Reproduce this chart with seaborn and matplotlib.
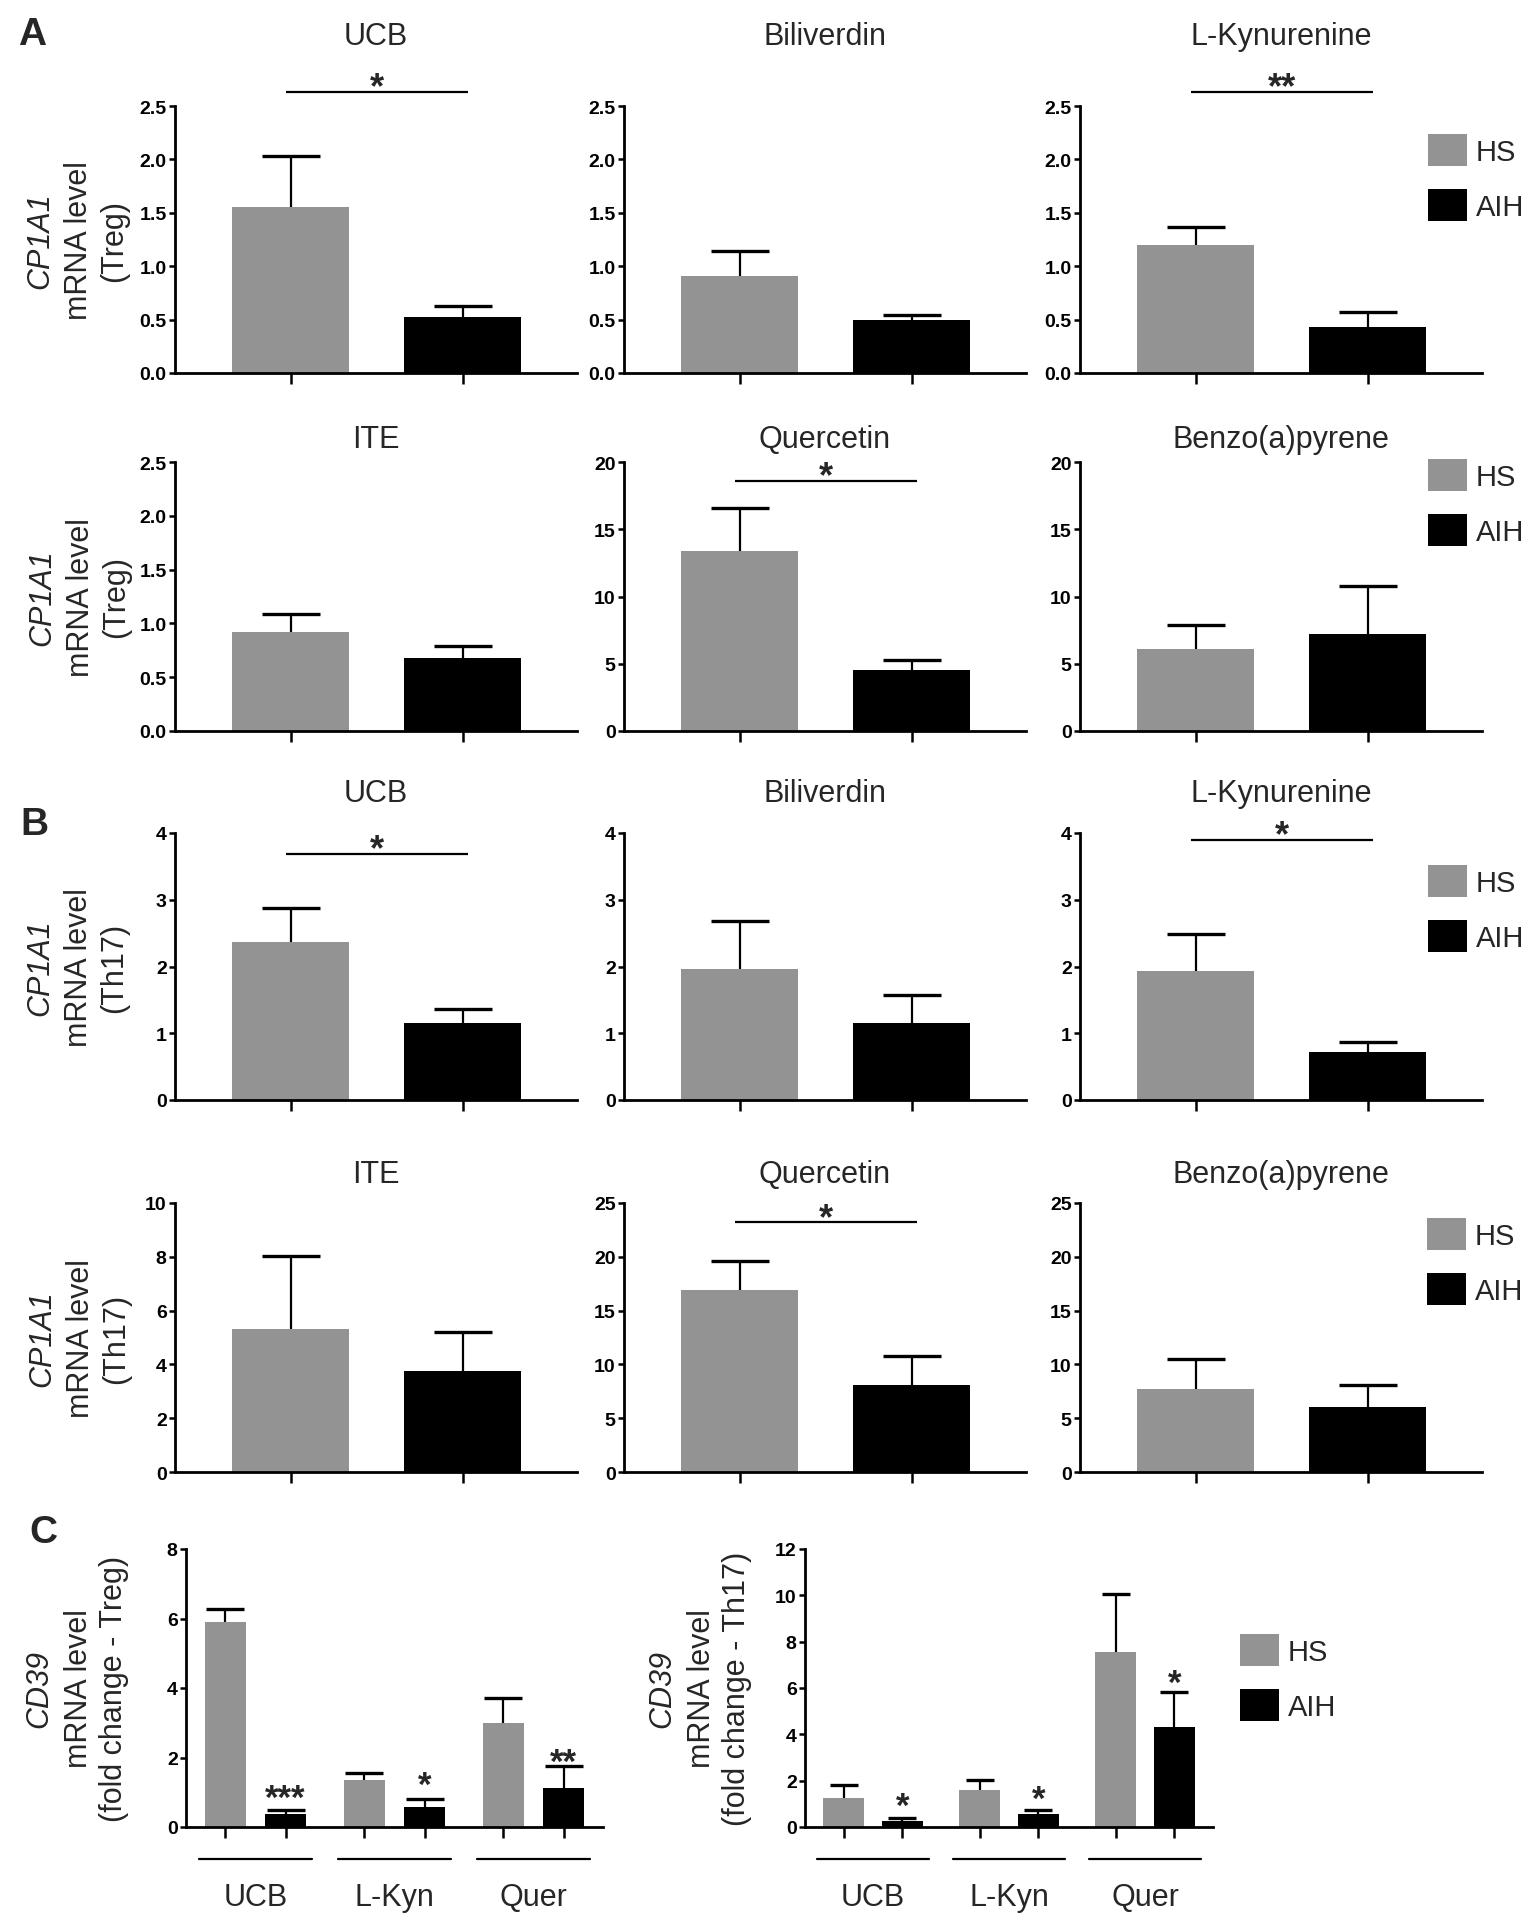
import numpy as np
import pandas as pd
import matplotlib
matplotlib.use("Agg")
import matplotlib.pyplot as plt
import seaborn as sns
from matplotlib.patches import Patch

# ---------------- data ----------------
groups = ["HS", "AIH"]
titles_top = ["UCB", "Biliverdin", "L-Kynurenine"]
titles_bottom = ["ITE", "Quercetin", "Benzo(a)pyrene"]

# Panel A, row 1 (Treg): [HS, AIH] per compound
a1_mean = [[1.55, 0.52], [0.91, 0.50], [1.20, 0.43]]
a1_sem = [[0.48, 0.11], [0.23, 0.04], [0.17, 0.14]]
a1_sig = ["*", "", "**"]
a1_sig_y = [2.63, 0, 2.63]
a1_yticks = [[0.0, 0.5, 1.0, 1.5, 2.0, 2.5]] * 3

# Panel A, row 2 (Treg)
a2_mean = [[0.92, 0.68], [13.4, 4.54], [6.1, 7.2]]
a2_sem = [[0.17, 0.11], [3.2, 0.75], [1.8, 3.55]]
a2_sig = ["", "*", ""]
a2_sig_y = [0, 18.6, 0]
a2_yticks = [[0.0, 0.5, 1.0, 1.5, 2.0, 2.5], [0, 5, 10, 15, 20], [0, 5, 10, 15, 20]]

# Panel B, row 1 (Th17)
b1_mean = [[2.37, 1.16], [1.97, 1.16], [1.935, 0.72]]
b1_sem = [[0.50, 0.21], [0.715, 0.415], [0.55, 0.155]]
b1_sig = ["*", "", "*"]
b1_sig_y = [3.69, 0, 3.90]
b1_yticks = [[0, 1, 2, 3, 4]] * 3

# Panel B, row 2 (Th17)
b2_mean = [[5.32, 3.77], [16.9, 8.1], [7.74, 6.04]]
b2_sem = [[2.70, 1.43], [2.75, 2.70], [2.72, 2.06]]
b2_sig = ["", "*", ""]
b2_sig_y = [0, 23.2, 0]
b2_yticks = [[0, 2, 4, 6, 8, 10], [0, 5, 10, 15, 20, 25], [0, 5, 10, 15, 20, 25]]

# Panel C (CD39 fold change)
c_drugs = ["UCB", "L-Kyn", "Quer"]
c_treg_hs = [5.89, 1.36, 3.00]
c_treg_hs_sem = [0.38, 0.20, 0.72]
c_treg_aih = [0.38, 0.57, 1.12]
c_treg_aih_sem = [0.10, 0.24, 0.63]
c_treg_stars = ["***", "*", "**"]
c_treg_star_y = [0.81, 1.21, 1.87]
c_treg_yticks = [0, 2, 4, 6, 8]

c_th17_hs = [1.27, 1.585, 7.54]
c_th17_hs_sem = [0.56, 0.465, 2.50]
c_th17_aih = [0.26, 0.55, 4.32]
c_th17_aih_sem = [0.14, 0.17, 1.49]
c_th17_stars = ["*", "*", "*"]
c_th17_star_y = [0.91, 1.21, 6.20]
c_th17_yticks = [0, 2, 4, 6, 8, 10, 12]

# ---------------- style ----------------
sns.set_theme(style="ticks")
plt.rcParams["font.family"] = ["Liberation Sans", "DejaVu Sans"]
GRAY = "#939393"
BLACK = "#000000"

W, H = 1538, 1924
fig = plt.figure(figsize=(W / 100, H / 100), dpi=100)


def px_axes(x0, y0, x1, y1):
    return fig.add_axes([x0 / W, 1 - y1 / H, (x1 - x0) / W, (y1 - y0) / H])


def style_axes(ax, yticks, ylim_top):
    for s in ["top", "right"]:
        ax.spines[s].set_visible(False)
    for s in ["left", "bottom"]:
        ax.spines[s].set_linewidth(2.0)
        ax.spines[s].set_color("black")
    ax.set_ylim(0, ylim_top)
    ax.set_yticks(yticks)
    if any(isinstance(t, float) and not float(t).is_integer() for t in yticks):
        ax.set_yticklabels([f"{t:.1f}" for t in yticks])
    else:
        ax.set_yticklabels([f"{int(t)}" for t in yticks])
    ax.tick_params(axis="y", direction="out", length=4, width=1.8, pad=2,
                   labelsize=14, colors="black")
    for lab in ax.get_yticklabels():
        lab.set_fontweight("bold")
    ax.tick_params(axis="x", direction="out", length=8, width=1.8,
                   labelbottom=False, colors="black")
    ax.set_xlabel("")
    ax.set_ylabel("")
    ax.set_facecolor("white")


def draw_pair(ax, means, sems, yticks, sig, sig_y):
    sns.barplot(x=groups, y=means, hue=groups, palette=[GRAY, BLACK],
                width=0.68, saturation=1, legend=False, linewidth=0,
                errorbar=None, ax=ax)
    eb = ax.errorbar([0, 1], means, yerr=[[0, 0], sems], fmt="none",
                     ecolor="black", elinewidth=1.6, capsize=21, capthick=2.4,
                     zorder=3)
    eb[1][0].set_visible(False)
    ax.set_xlim(-0.674, 1.663)
    ax.set_xticks([0, 1])
    style_axes(ax, yticks, yticks[-1])
    if sig:
        ax.plot([-0.03, 1.03], [sig_y, sig_y], color="black", lw=1.6,
                clip_on=False, solid_capstyle="butt")
        ax.annotate(sig, xy=(0.5, sig_y), xytext=(0, 3), textcoords="offset points",
                    ha="center", va="center", fontsize=26, fontweight="bold",
                    annotation_clip=False)


col_x = [(175, 577), (624, 1026), (1080, 1482)]
rows = [
    dict(y=(107, 374), mean=a1_mean, sem=a1_sem, yt=a1_yticks, sig=a1_sig,
         sy=a1_sig_y, titles=titles_top, tb=45, cell="(Treg)", lx=(40, 79, 114),
         leg=(1428, 135)),
    dict(y=(463, 732), mean=a2_mean, sem=a2_sem, yt=a2_yticks, sig=a2_sig,
         sy=a2_sig_y, titles=titles_bottom, tb=448, cell="(Treg)", lx=(42, 81, 116),
         leg=(1428, 460)),
    dict(y=(834, 1101), mean=b1_mean, sem=b1_sem, yt=b1_yticks, sig=b1_sig,
         sy=b1_sig_y, titles=titles_top, tb=802, cell="(Th17)", lx=(40, 79, 114),
         leg=(1428, 866)),
    dict(y=(1204, 1473), mean=b2_mean, sem=b2_sem, yt=b2_yticks, sig=b2_sig,
         sy=b2_sig_y, titles=titles_bottom, tb=1183, cell="(Th17)", lx=(42, 81, 116),
         leg=(1427, 1219)),
]

legend_handles = [Patch(facecolor=GRAY, edgecolor="none"),
                  Patch(facecolor=BLACK, edgecolor="none")]


def add_legend(x0, y0):
    fig.legend(legend_handles, groups, loc="upper left",
               bbox_to_anchor=(x0 / W, 1 - y0 / H), bbox_transform=fig.transFigure,
               frameon=False, fontsize=21, handlelength=1.34, handleheight=1.3,
               labelspacing=0.8, handletextpad=0.3, borderpad=0, borderaxespad=0)


TITLE_FS = 22
LABEL_FS = 22

for r in rows:
    y0, y1 = r["y"]
    for j in range(3):
        x0, x1 = col_x[j]
        ax = px_axes(x0, y0, x1, y1)
        draw_pair(ax, r["mean"][j], r["sem"][j], r["yt"][j], r["sig"][j], r["sy"][j])
        ax.text(0.5, (y1 - r["tb"]) / (y1 - y0), r["titles"][j], transform=ax.transAxes,
                ha="center", va="baseline", fontsize=TITLE_FS, clip_on=False)
    yc = 1 - (y0 + y1) / 2 / H
    lx = r["lx"]
    fig.text(lx[0] / W, yc, "CP1A1", rotation=90, ha="center", va="center",
             fontsize=LABEL_FS, fontstyle="italic")
    fig.text(lx[1] / W, yc, "mRNA level", rotation=90, ha="center", va="center",
             fontsize=LABEL_FS)
    fig.text(lx[2] / W, yc, r["cell"], rotation=90, ha="center", va="center",
             fontsize=LABEL_FS)
    add_legend(*r["leg"])

# ---------------- Panel C ----------------
C_WIDTH = 0.864
C_GAP = 0.305


def draw_c(ax, hs, hs_sem, aih, aih_sem, stars, star_y, yticks, capsize):
    df = pd.DataFrame({"drug": c_drugs * 2,
                       "group": ["HS"] * 3 + ["AIH"] * 3,
                       "value": list(hs) + list(aih)})
    sns.barplot(data=df, x="drug", y="value", hue="group", order=c_drugs,
                hue_order=groups, palette={"HS": GRAY, "AIH": BLACK},
                width=C_WIDTH, gap=C_GAP, saturation=1, errorbar=None,
                linewidth=0, legend=False, ax=ax)
    base = np.arange(len(c_drugs))
    off = C_WIDTH / 4
    for xs, m, s in [(base - off, hs, hs_sem), (base + off, aih, aih_sem)]:
        eb = ax.errorbar(xs, m, yerr=[np.zeros(len(m)), s], fmt="none",
                         ecolor="black", elinewidth=1.6, capsize=capsize,
                         capthick=2.4, zorder=3)
        eb[1][0].set_visible(False)
    for xi, st, sy in zip(base + off, stars, star_y):
        ax.text(xi, sy, st, ha="center", va="center", fontsize=25,
                fontweight="bold")
    ax.set_xlim(-0.5, 2.5)
    ax.set_xticks(np.sort(np.concatenate([base - off, base + off])))
    style_axes(ax, yticks, yticks[-1])
    for i, name in enumerate(c_drugs):
        ax.plot([i - 0.41, i + 0.41], [-0.115, -0.115], color="black", lw=1.6,
                transform=ax.get_xaxis_transform(), clip_on=False)
        ax.text(i, -0.252, name, transform=ax.get_xaxis_transform(),
                ha="center", va="center", fontsize=22)


cy0, cy1 = 1550, 1828
axc1 = px_axes(186, cy0, 603, cy1)
draw_c(axc1, c_treg_hs, c_treg_hs_sem, c_treg_aih, c_treg_aih_sem,
       c_treg_stars, c_treg_star_y, c_treg_yticks, 13.5)
axc2 = px_axes(805, cy0, 1213, cy1)
draw_c(axc2, c_th17_hs, c_th17_hs_sem, c_th17_aih, c_th17_aih_sem,
       c_th17_stars, c_th17_star_y, c_th17_yticks, 10)

ycc = 1 - (cy0 + cy1) / 2 / H
for xs, cell in [((39, 79, 114), "(fold change - Treg)"),
                 ((662, 702, 737), "(fold change - Th17)")]:
    fig.text(xs[0] / W, ycc, "CD39", rotation=90, ha="center", va="center",
             fontsize=LABEL_FS, fontstyle="italic")
    fig.text(xs[1] / W, ycc, "mRNA level", rotation=90, ha="center", va="center",
             fontsize=LABEL_FS)
    fig.text(xs[2] / W, ycc, cell, rotation=90, ha="center", va="center",
             fontsize=LABEL_FS)
add_legend(1240, 1635)

# panel letters
for letter, lx, bl in [("A", 18, 45), ("B", 20, 835), ("C", 29, 1543)]:
    fig.text(lx / W, 1 - bl / H, letter, fontsize=28, fontweight="bold",
             ha="left", va="baseline")

fig.savefig("out.png", dpi=100, facecolor="white")
